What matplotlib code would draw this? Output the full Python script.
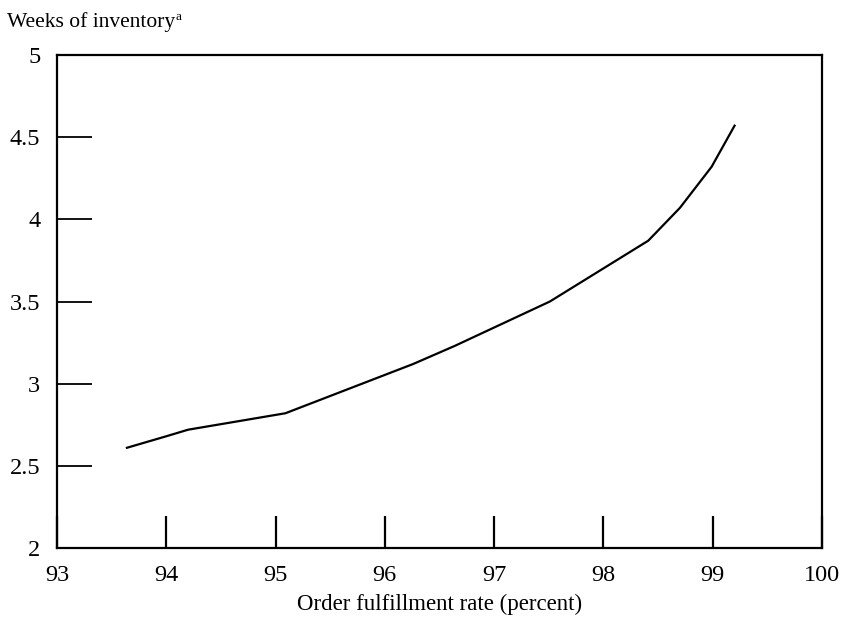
import matplotlib
matplotlib.use("Agg")
import matplotlib.pyplot as plt

fulfillment = [93.64, 94.0, 94.2, 95.09, 96.26, 96.64, 97.51, 98.41, 98.70, 98.99, 99.2]
weeks = [2.61, 2.68, 2.72, 2.82, 3.12, 3.23, 3.50, 3.87, 4.07, 4.32, 4.57]
xticks = [93, 94, 95, 96, 97, 98, 99, 100]
yticks = [2, 2.5, 3, 3.5, 4, 4.5, 5]
ytick_labels = ["2", "2.5", "3", "3.5", "4", "4.5", "5"]

plt.rcParams["font.family"] = ["Liberation Serif", "DejaVu Serif"]

fig = plt.figure(figsize=(8.43, 6.2), dpi=100)
ax = fig.add_axes([0.0676, 0.1161, 0.9075, 0.7952])
ax.plot(fulfillment, weeks, color="black", lw=1.6)
ax.set_xlim(93, 100)
ax.set_ylim(2, 5)
ax.set_xticks(xticks)
ax.set_xticklabels([str(t) for t in xticks])
ax.set_yticks(yticks)
ax.set_yticklabels(ytick_labels)
ax.tick_params(axis="x", direction="in", length=23, width=1.6, pad=12, labelsize=17.5)
ax.tick_params(axis="y", direction="in", length=25, width=1.3, pad=12, labelsize=17.5)
for s in ax.spines.values():
    s.set_linewidth(1.6)
ax.set_xlabel("Order fulfillment rate (percent)", fontsize=16.5, labelpad=6)
t = fig.text(0.008, 0.965, "Weeks of inventory", fontsize=15.5, ha="left", va="center")
fig.canvas.draw()
bb = t.get_window_extent()
fig.text(bb.x1 / fig.bbox.width + 0.001, (bb.y1 + 1) / fig.bbox.height, "a",
         fontsize=9.5, ha="left", va="top")
fig.savefig("out.png", dpi=100)
